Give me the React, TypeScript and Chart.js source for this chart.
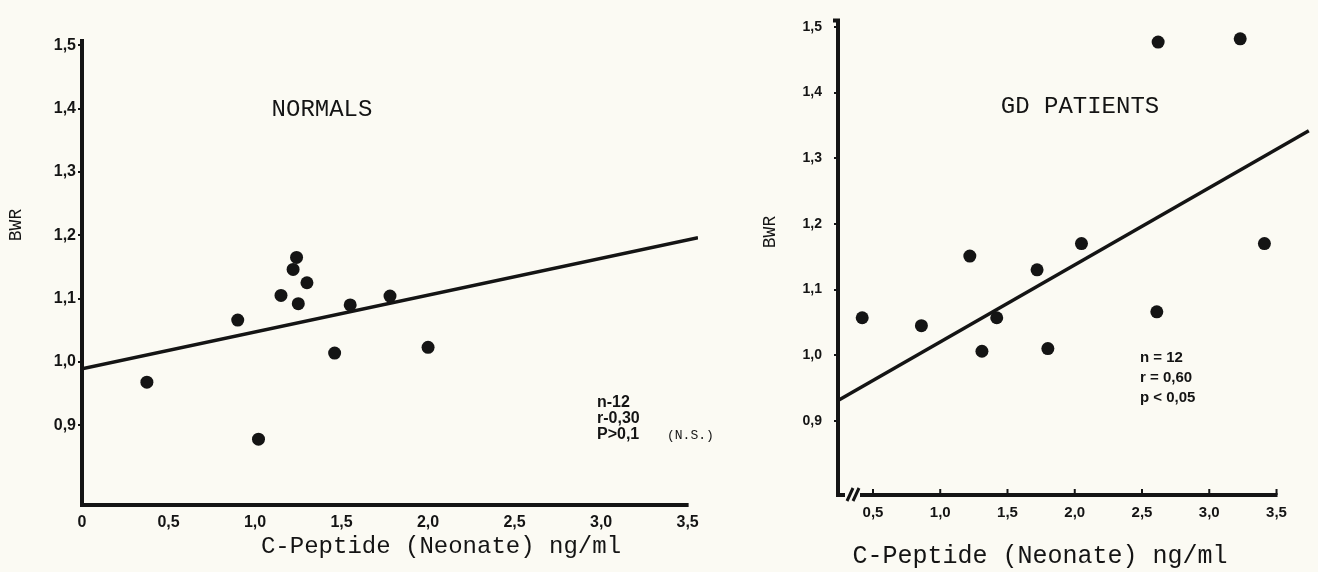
import React, { useEffect, useRef } from "react";
import { Chart, registerables } from "chart.js";

Chart.register(...registerables);

// ---------- data ----------
const normalsX = [1.24, 1.22, 1.30, 1.15, 1.25, 0.90, 1.55, 1.78, 1.46, 2.00, 1.02, 0.375];
const normalsY = [1.165, 1.146, 1.125, 1.105, 1.092, 1.066, 1.09, 1.104, 1.014, 1.023, 0.878, 0.968];
const normalsFitX = [0, 3.56];
const normalsFitY = [0.989, 1.196];

const gdX = [2.62, 3.23, 1.22, 1.72, 2.05, 3.41, 0.42, 0.86, 1.42, 2.61, 1.31, 1.80];
const gdY = [1.477, 1.482, 1.151, 1.130, 1.170, 1.170, 1.057, 1.045, 1.057, 1.066, 1.006, 1.010];
const gdFitX = [0.24, 3.74];
const gdFitY = [0.931, 1.342];

const yTickValues = [0.9, 1.0, 1.1, 1.2, 1.3, 1.4, 1.5];
const normalsXTickValues = [0, 0.5, 1.0, 1.5, 2.0, 2.5, 3.0, 3.5];
const gdXTickValues = [0.5, 1.0, 1.5, 2.0, 2.5, 3.0, 3.5];

const normalsTitle = "NORMALS";
const gdTitle = "GD PATIENTS";
const xAxisTitle = "C-Peptide (Neonate) ng/ml";
const yAxisTitle = "BWR";
const normalsStats = ["n-12", "r-0,30", "P>0,1"];
const normalsNote = "(N.S.)";
const gdStats = ["n = 12", "r = 0,60", "p < 0,05"];

const INK = "#141414";
const BG = "#fbfaf3";
const MONO = "'Liberation Mono', 'DejaVu Sans Mono', monospace";
const SANS = "'Liberation Sans', Arial, sans-serif";

const fmt = (v: number) => (v === 0 ? "0" : v.toFixed(1).replace(".", ","));
const pts = (xs: number[], ys: number[]) => xs.map((x, i) => ({ x, y: ys[i] }));

function leftDecor() {
  return {
    id: "leftDecor",
    afterDraw(chart: any) {
      const { ctx, chartArea } = chart;
      const xs = chart.scales.x;
      ctx.save();
      ctx.strokeStyle = INK;
      ctx.fillStyle = INK;
      ctx.lineWidth = 4;
      ctx.beginPath();
      ctx.moveTo(chartArea.left, chartArea.top);
      ctx.lineTo(chartArea.left, chartArea.bottom + 2);
      ctx.stroke();
      ctx.beginPath();
      ctx.moveTo(chartArea.left - 2, chartArea.bottom);
      ctx.lineTo(xs.getPixelForValue(3.5) + 1, chartArea.bottom);
      ctx.stroke();

      ctx.textAlign = "center";
      ctx.textBaseline = "middle";
      ctx.font = `24px ${MONO}`;
      ctx.fillText(normalsTitle, 322, 110);
      ctx.fillText(xAxisTitle, 441, 547);

      ctx.save();
      ctx.translate(16, 225);
      ctx.rotate(-Math.PI / 2);
      ctx.font = `18px ${MONO}`;
      ctx.fillText(yAxisTitle, 0, 0);
      ctx.restore();

      ctx.textAlign = "left";
      ctx.font = `bold 16px ${SANS}`;
      normalsStats.forEach((s, i) => ctx.fillText(s, 597, 403 + i * 16));
      ctx.font = `13px ${MONO}`;
      ctx.fillText(normalsNote, 667, 436);
      ctx.restore();
    },
  };
}

function rightDecor() {
  return {
    id: "rightDecor",
    afterDraw(chart: any) {
      const { ctx, chartArea } = chart;
      const xs = chart.scales.x;
      const L = chartArea.left;
      const B = chartArea.bottom;
      ctx.save();
      ctx.strokeStyle = INK;
      ctx.fillStyle = INK;
      ctx.lineWidth = 4;
      // y axis with top hook
      ctx.beginPath();
      ctx.moveTo(L - 5, chartArea.top);
      ctx.lineTo(L, chartArea.top);
      ctx.lineTo(L, B);
      ctx.lineTo(L + 7, B);
      ctx.stroke();
      // break marks
      ctx.lineWidth = 3;
      ctx.beginPath();
      ctx.moveTo(L + 9, B + 6);
      ctx.lineTo(L + 15, B - 7);
      ctx.moveTo(L + 15, B + 6);
      ctx.lineTo(L + 21, B - 7);
      ctx.stroke();
      // x axis
      ctx.lineWidth = 4;
      ctx.beginPath();
      ctx.moveTo(L + 22, B);
      ctx.lineTo(xs.getPixelForValue(3.5) + 1, B);
      ctx.stroke();
      // x tick marks (upward)
      ctx.lineWidth = 2;
      gdXTickValues.forEach((v) => {
        const px = xs.getPixelForValue(v);
        ctx.beginPath();
        ctx.moveTo(px, B);
        ctx.lineTo(px, B - 6);
        ctx.stroke();
      });

      ctx.textAlign = "center";
      ctx.textBaseline = "middle";
      ctx.font = `24px ${MONO}`;
      ctx.fillText(gdTitle, 1080 - 720, 107);
      ctx.font = `25px ${MONO}`;
      ctx.fillText(xAxisTitle, 1040 - 720, 556);

      ctx.save();
      ctx.translate(770 - 720, 232);
      ctx.rotate(-Math.PI / 2);
      ctx.font = `18px ${MONO}`;
      ctx.fillText(yAxisTitle, 0, 0);
      ctx.restore();

      ctx.textAlign = "left";
      ctx.font = `bold 15px ${SANS}`;
      gdStats.forEach((s, i) => ctx.fillText(s, 1140 - 720, 358 + i * 20));
      ctx.restore();
    },
  };
}

function makeConfig(p: any): any {
  return {
    type: "scatter",
    data: {
      datasets: [
        {
          data: p.points,
          pointRadius: 6.5,
          pointHoverRadius: 6.5,
          backgroundColor: INK,
          borderColor: INK,
          borderWidth: 0,
          showLine: false,
        },
        {
          data: p.fit,
          showLine: true,
          borderColor: INK,
          borderWidth: 3.5,
          pointRadius: 0,
          fill: false,
        },
      ],
    },
    options: {
      animation: false,
      responsive: false,
      maintainAspectRatio: false,
      layout: { padding: p.padding },
      plugins: { legend: { display: false }, tooltip: { enabled: false } },
      scales: {
        x: {
          type: "linear",
          min: p.xMin,
          max: p.xMax,
          afterBuildTicks: (s: any) => {
            s.ticks = p.xTicks.map((v: number) => ({ value: v }));
          },
          afterFit: (s: any) => {
            s.height = p.xHeight;
          },
          ticks: {
            autoSkip: false,
            maxRotation: 0,
            padding: p.xPad,
            color: INK,
            font: { family: SANS, size: p.xFont, weight: "bold" },
            callback: (v: number) => fmt(v),
          },
          grid: { display: false, drawTicks: false },
          border: { display: false },
        },
        y: {
          type: "linear",
          min: p.yMin,
          max: p.yMax,
          afterBuildTicks: (s: any) => {
            s.ticks = yTickValues.map((v) => ({ value: v }));
          },
          afterFit: (s: any) => {
            s.width = p.yWidth;
          },
          ticks: {
            autoSkip: false,
            padding: p.yPad,
            color: INK,
            font: { family: SANS, size: p.yFont, weight: "bold" },
            callback: (v: number) => fmt(v),
          },
          grid: {
            drawOnChartArea: false,
            drawTicks: true,
            tickLength: 4,
            color: INK,
            lineWidth: 2,
          },
          border: { display: false },
        },
      },
    },
    plugins: [p.decor],
  };
}

function Panel(props: { left: number; width: number; spec: any }) {
  const ref = useRef<HTMLCanvasElement | null>(null);
  useEffect(() => {
    if (!ref.current) return;
    const chart = new Chart(ref.current, makeConfig(props.spec));
    return () => chart.destroy();
  }, []);
  return (
    <canvas
      ref={ref}
      width={props.width}
      height={572}
      style={{ position: "absolute", left: props.left, top: 0, width: props.width, height: 572 }}
    />
  );
}

export default function App() {
  const leftSpec = {
    points: pts(normalsX, normalsY),
    fit: pts(normalsFitX, normalsFitY),
    padding: { left: 0, top: 39, right: 22, bottom: 0 },
    xMin: 0,
    xMax: 3.56,
    yMin: 0.774,
    yMax: 1.51,
    xTicks: normalsXTickValues,
    xHeight: 67,
    xPad: 8,
    xFont: 16,
    yWidth: 82,
    yPad: 2,
    yFont: 16,
    decor: leftDecor(),
  };
  const rightSpec = {
    points: pts(gdX, gdY),
    fit: pts(gdFitX, gdFitY),
    padding: { left: 0, top: 13, right: 5, bottom: 0 },
    xMin: 0.24,
    xMax: 3.76,
    yMin: 0.787,
    yMax: 1.51,
    xTicks: gdXTickValues,
    xHeight: 77,
    xPad: 9,
    xFont: 15,
    yWidth: 118,
    yPad: 12,
    yFont: 14,
    decor: rightDecor(),
  };
  return (
    <div style={{ position: "absolute", left: 0, top: 0, width: 1318, height: 572, background: BG, overflow: "hidden" }}>
      <Panel left={0} width={720} spec={leftSpec} />
      <Panel left={720} width={598} spec={rightSpec} />
    </div>
  );
}
